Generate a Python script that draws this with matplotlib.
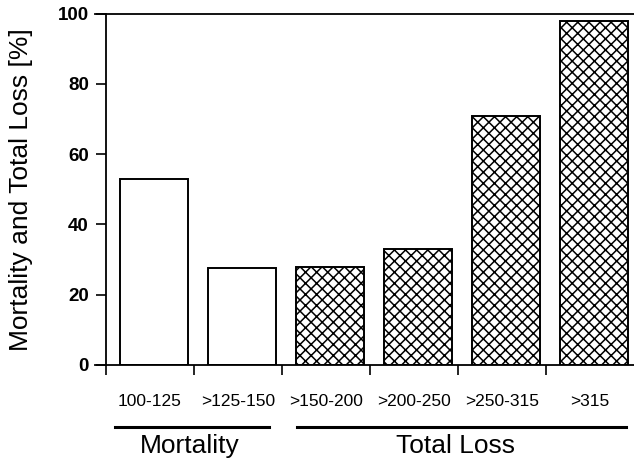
import matplotlib.pyplot as plt
import numpy as np
from matplotlib.transforms import blended_transform_factory

plt.rcParams['font.family'] = ['Liberation Sans', 'DejaVu Sans']
plt.rcParams['hatch.linewidth'] = 1.1

# values
classes = ['100-125', '>125-150', '>150-200', '>200-250', '>250-315', '>315']
values = [53, 27.5, 28, 33, 71, 98]
hatched = [False, False, True, True, True, True]
y_ticks = [0, 20, 40, 60, 80, 100]

fig = plt.figure(figsize=(6.34, 4.59), dpi=100)
ax = fig.add_axes([0.150, 0.205, 0.850, 0.765])

x = np.arange(len(classes))
for i, (v, h) in enumerate(zip(values, hatched)):
    ax.bar(x[i] + 0.55, v, width=0.77, color='white', edgecolor='black',
           linewidth=1.4, hatch='xxx' if h else None)

ax.set_xlim(-0.12, 6.0)
ax.set_ylim(0, 100)

# axes look
ax.spines['right'].set_visible(False)
ax.spines['left'].set_position(('data', 0))
ax.spines['left'].set_bounds(0, 100)
for s in ['left', 'bottom', 'top']:
    ax.spines[s].set_linewidth(1.3)

ax.set_yticks(y_ticks)
ax.set_yticklabels([str(t) for t in y_ticks], fontweight='bold', fontsize=13.5)
ax.tick_params(axis='y', length=7, width=1.2, pad=5, direction='out')

ax.set_xticks(x)
ax.set_xticklabels([])
ax.set_xticks(x + 0.5, minor=True)
ax.set_xticklabels(classes, minor=True, fontsize=12.5)
ax.tick_params(axis='x', which='major', length=7, width=1.2, direction='out')
ax.tick_params(axis='x', which='minor', length=0, pad=21)

ax.set_ylabel('Mortality and Total Loss [%]', fontsize=19, labelpad=18)

# group lines and labels under the axis
tr = blended_transform_factory(ax.transData, ax.transAxes)
ax.plot([0.11, 1.85], [-0.177, -0.177], color='black', lw=2.2,
        transform=tr, clip_on=False)
ax.plot([2.17, 5.91], [-0.177, -0.177], color='black', lw=2.2,
        transform=tr, clip_on=False)
ax.text(0.96, -0.232, 'Mortality', transform=tr, ha='center', va='center',
        fontsize=19)
ax.text(3.97, -0.232, 'Total Loss', transform=tr, ha='center', va='center',
        fontsize=19)

fig.savefig('out.png', dpi=100)
